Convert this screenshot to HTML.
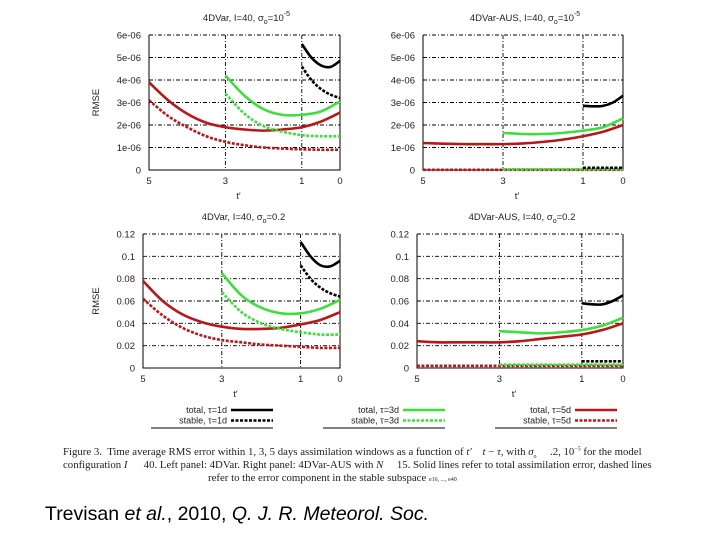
<!DOCTYPE html>
<html><head><meta charset="utf-8"><style>
html,body{margin:0;padding:0;background:#fff;}
#wrap{position:relative;width:720px;height:540px;overflow:hidden;}
svg{position:absolute;left:0;top:0;}
.cap{position:absolute;font-family:"Liberation Serif",serif;font-size:10.8px;color:#222;white-space:nowrap;}
</style></head><body>
<div id="wrap">
<svg id="chart" width="720" height="540"></svg>
<div class="cap" style="left:63px;top:446px;">Figure 3.&nbsp; Time average RMS error within 1, 3, 5 days assimilation windows as a function of <i>t′</i> &nbsp;&nbsp; <i>t</i> − <i>τ</i>, with <i>σ</i><sub style="font-size:6px">o</sub> &nbsp;&nbsp;&nbsp; .2, 10<sup style="font-size:6px">−5</sup> for the model</div>
<div class="cap" style="left:63px;top:459px;">configuration <i>I</i> &nbsp;&nbsp;&nbsp;&nbsp; 40. Left panel: 4DVar. Right panel: 4DVar-AUS with <i>N</i> &nbsp;&nbsp;&nbsp; 15. Solid lines refer to total assimilation error, dashed lines</div>
<div class="cap" style="left:208px;top:472px;">refer to the error component in the stable subspace <span style="font-size:6px">e16, ..., e40</span></div>
<div style="position:absolute;left:45px;top:503px;font-family:'Liberation Sans',sans-serif;font-size:19.5px;color:#000;white-space:nowrap;">Trevisan <i>et al.</i>, 2010, <i>Q. J. R. Meteorol. Soc.</i></div>
</div>
<script>
// ---- data (t' values and RMSE) ----
const t5 = [5,4.5,4,3.5,3,2.5,2,1.5,1,0.5,0];
const t3 = [3,2.5,2,1.5,1,0.5,0];
const t1 = [1,0.75,0.5,0.25,0];
const xTicks = [5,3,1,0];
const yTicksA = [0,1,2,3,4,5,6];
const yLabelsA = ["0","1e-06","2e-06","3e-06","4e-06","5e-06","6e-06"];
const yTicksB = [0,0.02,0.04,0.06,0.08,0.1,0.12];
const yLabelsB = ["0","0.02","0.04","0.06","0.08","0.1","0.12"];
// top-left (units 1e-6)
const tlRedTotal = [3.9,3.1,2.5,2.1,1.9,1.8,1.75,1.8,1.9,2.15,2.55];
const tlRedStable = [3.1,2.4,1.9,1.5,1.25,1.1,1.0,0.95,0.92,0.9,0.9];
const tlGreenTotal = [4.2,3.3,2.7,2.45,2.45,2.6,3.05];
const tlGreenStable = [3.4,2.5,1.95,1.7,1.55,1.5,1.5];
const tlBlackTotal = [5.6,5.0,4.65,4.58,4.85];
const tlBlackStable = [4.6,4.0,3.6,3.35,3.2];
// top-right
const trRedTotal = [1.2,1.17,1.15,1.15,1.15,1.18,1.25,1.35,1.5,1.7,2.0];
const trRedStable = [0.01,0.01,0.01,0.01,0.01,0.01,0.01,0.01,0.01,0.01,0.01];
const trGreenTotal = [1.65,1.6,1.6,1.65,1.75,1.9,2.3];
const trGreenStable = [0.03,0.03,0.03,0.03,0.03,0.03,0.03];
const trBlackTotal = [2.85,2.83,2.85,3.0,3.3];
const trBlackStable = [0.1,0.1,0.1,0.1,0.1];
// bottom-left
const blRedTotal = [0.078,0.06,0.048,0.041,0.037,0.035,0.035,0.036,0.039,0.043,0.05];
const blRedStable = [0.062,0.047,0.036,0.029,0.025,0.023,0.021,0.02,0.019,0.018,0.018];
const blGreenTotal = [0.085,0.065,0.054,0.049,0.049,0.053,0.061];
const blGreenStable = [0.068,0.05,0.04,0.035,0.032,0.03,0.03];
const blBlackTotal = [0.113,0.1,0.092,0.091,0.096];
const blBlackStable = [0.092,0.08,0.072,0.067,0.064];
// bottom-right
const brRedTotal = [0.024,0.023,0.023,0.023,0.023,0.024,0.026,0.028,0.03,0.034,0.04];
const brRedStable = [0.002,0.002,0.002,0.002,0.002,0.002,0.002,0.002,0.002,0.002,0.002];
const brGreenTotal = [0.033,0.032,0.031,0.032,0.034,0.038,0.045];
const brGreenStable = [0.003,0.003,0.003,0.003,0.003,0.003,0.003];
const brBlackTotal = [0.058,0.057,0.057,0.06,0.065];
const brBlackStable = [0.006,0.006,0.006,0.006,0.006];

const NS="http://www.w3.org/2000/svg";
const svg=document.getElementById('chart');
function mk(tag,attrs,parent){const e=document.createElementNS(NS,tag);for(const k in attrs)e.setAttribute(k,attrs[k]);(parent||svg).appendChild(e);return e;}
const RED="#b81818", GREEN="#3ede3e", BLACK="#000";

function smooth(pts){
  let d="M"+pts[0][0]+","+pts[0][1];
  for(let i=0;i<pts.length-1;i++){
    const p0=pts[Math.max(i-1,0)],p1=pts[i],p2=pts[i+1],p3=pts[Math.min(i+2,pts.length-1)];
    const c1=[p1[0]+(p2[0]-p0[0])/6,p1[1]+(p2[1]-p0[1])/6];
    const c2=[p2[0]-(p3[0]-p1[0])/6,p2[1]-(p3[1]-p1[1])/6];
    d+=" C"+c1[0]+","+c1[1]+" "+c2[0]+","+c2[1]+" "+p2[0]+","+p2[1];
  }
  return d;
}

function panel(name,box,title,ymax,yTicks,yLabels,showYTitle,series){
  const g=mk('g',{});
  
  
  const X=t=>box.L+(5-t)/5*(box.R-box.L);
  const Y=v=>box.B-v/ymax*(box.B-box.T);
  yTicks.forEach((v,i)=>{
    if(v>0){
      const l=mk('line',{x1:box.L,x2:box.R,y1:Y(v),y2:Y(v),stroke:'#000','stroke-width':0.9,'stroke-dasharray':'4,2,1,2'},g);
      
      
    }
    const tx=mk('text',{x:box.L-8,y:Y(v)+3.5,'text-anchor':'end','font-size':'9.5','font-family':'Liberation Sans, sans-serif',fill:'#222'},g);
    tx.textContent=yLabels[i];
    
    
  });
  [3,1].forEach(t=>{
    const l=mk('line',{x1:X(t),x2:X(t),y1:box.T,y2:box.B,stroke:'#000','stroke-width':0.9,'stroke-dasharray':'4,2,1,2'},g);
    
    
  });
  const ax=mk('path',{d:`M${box.L},${box.T} V${box.B} H${box.R} V${box.T}`,fill:'none',stroke:'#000','stroke-width':1},g);
  
  
  xTicks.forEach(t=>{
    const tx=mk('text',{x:X(t),y:box.B+14,'text-anchor':'middle','font-size':'9.5','font-family':'Liberation Sans, sans-serif',fill:'#222'},g);
    tx.textContent=String(t);
    
    
  });
  const xt=mk('text',{x:(box.L+box.R)/2-6,y:box.B+29,'text-anchor':'middle','font-size':'9.5','font-family':'Liberation Sans, sans-serif',fill:'#222'},g);
  xt.textContent="t′";
  
  
  if(showYTitle){
    const yc=(box.T+box.B)/2;
    const yt=mk('text',{x:99,y:yc,'text-anchor':'middle','font-size':'9.5','font-family':'Liberation Sans, sans-serif',fill:'#222',transform:`rotate(-90 99 ${yc})`},g);
    yt.textContent="RMSE";
    
    
  }
  const tt=mk('text',{x:(box.L+box.R)/2+2,y:box.T-14,'text-anchor':'middle','font-size':'9.5','font-family':'Liberation Sans, sans-serif',fill:'#222'},g);
  tt.innerHTML=title;
  
  
  series.forEach(s=>{
    const pts=s.t.map((t,i)=>[X(t),Y(s.v[i])]);
    const p=mk('path',{d:smooth(pts),fill:'none',stroke:s.c,'stroke-width':2.6,'stroke-dasharray':s.dash?'3,1.5':'none'},g);
    
    
  });
}
const sigA='σ<tspan dy="3" font-size="7">o</tspan><tspan dy="-3">=10</tspan><tspan dy="-5" font-size="7">-5</tspan>';
const sigB='σ<tspan dy="3" font-size="7">o</tspan><tspan dy="-3">=0.2</tspan>';
function S(prefix,rt,rs,gt,gs,bt,bs){return [
 {n:prefix+'-red-stable',t:t5,v:rs,c:RED,dash:true},{n:prefix+'-red-total',t:t5,v:rt,c:RED},
 {n:prefix+'-green-stable',t:t3,v:gs,c:GREEN,dash:true},{n:prefix+'-green-total',t:t3,v:gt,c:GREEN},
 {n:prefix+'-black-stable',t:t1,v:bs,c:BLACK,dash:true},{n:prefix+'-black-total',t:t1,v:bt,c:BLACK}];}
panel('panel-4dvar-1e5',{L:149,R:340,T:35,B:170},'4DVar, I=40, '+sigA,6,yTicksA,yLabelsA,true,
 S('tl',tlRedTotal,tlRedStable,tlGreenTotal,tlGreenStable,tlBlackTotal,tlBlackStable));
panel('panel-aus-1e5',{L:423,R:623,T:35,B:170},'4DVar-AUS, I=40, '+sigA,6,yTicksA,yLabelsA,false,
 S('tr',trRedTotal,trRedStable,trGreenTotal,trGreenStable,trBlackTotal,trBlackStable));
panel('panel-4dvar-02',{L:143,R:340,T:234,B:368},'4DVar, I=40, '+sigB,0.12,yTicksB,yLabelsB,true,
 S('bl',blRedTotal,blRedStable,blGreenTotal,blGreenStable,blBlackTotal,blBlackStable));
panel('panel-aus-02',{L:417,R:623,T:234,B:368},'4DVar-AUS, I=40, '+sigB,0.12,yTicksB,yLabelsB,false,
 S('br',brRedTotal,brRedStable,brGreenTotal,brGreenStable,brBlackTotal,brBlackStable));

const legendItems=[["total, τ=1d","stable, τ=1d",BLACK],["total, τ=3d","stable, τ=3d",GREEN],["total, τ=5d","stable, τ=5d",RED]];
legendItems.forEach((it,k)=>{
  const off=k*172;
  const g=mk('g',{});
  
  
  [0,1].forEach(j=>{
    const y=410+j*10.5;
    const tx=mk('text',{x:227+off,y:y+3,'text-anchor':'end','font-size':'9','font-family':'Liberation Sans, sans-serif',fill:'#222'},g);
    tx.textContent=it[j];
    
    
    const l=mk('line',{x1:231+off,x2:273+off,y1:y,y2:y,stroke:it[2],'stroke-width':2.4,'stroke-dasharray':j?'3,1.5':'none'},g);
    
    
  });
  const u=mk('line',{x1:151+off,x2:273+off,y1:428,y2:428,stroke:'#000','stroke-width':1},g);
  
  
});
</script>
</body></html>
